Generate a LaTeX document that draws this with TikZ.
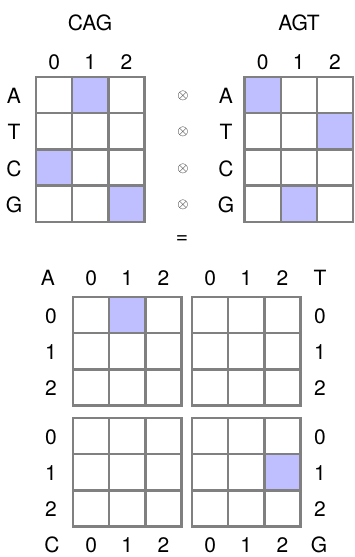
\documentclass[tikz,border=0pt]{standalone}
\usepackage{fontspec}
\setmainfont{TeX Gyre Heros}
\definecolor{gridgray}{RGB}{128,128,128}
\definecolor{hitblue}{RGB}{191,191,255}
\newcommand\cellgrid[4]{% x0 y0 cols rows
  \foreach \i in {0,...,#3} \draw[cellline] (#1+\i*36.2,#2) -- ++(0,#4*36.2);
  \foreach \j in {0,...,#4} \draw[cellline] (#1,#2+\j*36.2) -- ++(#3*36.2,0);
}
\newcommand\hitcell[4]{% x0 y0 col row
  \fill[hitblue] (#1+#3*36.2,#2+#4*36.2) rectangle ++(36.2,36.2);
}
\begin{document}
\begin{tikzpicture}[x=1pt,y=-1pt,
  cellline/.style={draw=gridgray,line width=2.4pt,line cap=rect},
  lbl/.style={font=\fontsize{21}{21}\selectfont,inner sep=0pt,anchor=center},
  op/.style={font=\fontsize{15}{15}\selectfont,inner sep=0pt,anchor=center}]
\useasboundingbox (0,0) rectangle (354,557);
% top left grid CAG
\hitcell{36}{77}{1}{0}
\hitcell{36}{77}{0}{2}
\hitcell{36}{77}{2}{3}
\cellgrid{36}{77}{3}{4}
% top right grid AGT
\hitcell{244.5}{77}{0}{0}
\hitcell{244.5}{77}{2}{1}
\hitcell{244.5}{77}{1}{3}
\cellgrid{244.5}{77}{3}{4}
% bottom blocks
\hitcell{73}{297}{1}{0}
\hitcell{192}{418}{2}{1}
\cellgrid{73}{297}{3}{3}
\cellgrid{192}{297}{3}{3}
\cellgrid{73}{418}{3}{3}
\cellgrid{192}{418}{3}{3}
% titles
\node[lbl] (cag) at (90,23) {CAG};
\node[lbl] (agt) at (299,23) {AGT};
% top column numbers
\node[lbl] (lc0) at (54.1,62) {0};
\node[lbl] (lc1) at (90.3,62) {1};
\node[lbl] (lc2) at (126.5,62) {2};
\node[lbl] (rc0) at (262.6,62) {0};
\node[lbl] (rc1) at (298.8,62) {1};
\node[lbl] (rc2) at (335,62) {2};
% row labels
\foreach \t [count=\k from 0] in {A,T,C,G} {
  \node[lbl] (lr\t) at (14,96+\k*36.2) {\t};
  \node[lbl] (rr\t) at (226,96+\k*36.2) {\t};
  \node[op] (ox\t) at (183,96+\k*36.2) {$\otimes$};
}
\node[lbl] (eq) at (182,240) {=};
% bottom headers
\node[lbl] (ba) at (48,278) {A};
\node[lbl] (bt) at (320,278) {T};
\node[lbl] (bc) at (52,545) {C};
\node[lbl] (bg) at (319,545) {G};
\foreach \n [count=\k from 0] in {0,1,2} {
  \node[lbl] (htl\n) at (91.1+\k*36.2,278) {\n};
  \node[lbl] (htr\n) at (210.1+\k*36.2,278) {\n};
  \node[lbl] (hbl\n) at (91.1+\k*36.2,545) {\n};
  \node[lbl] (hbr\n) at (210.1+\k*36.2,545) {\n};
  \node[lbl] (ul\n) at (51,316+\k*36.2) {\n};
  \node[lbl] (ur\n) at (320,316+\k*36.2) {\n};
  \node[lbl] (dl\n) at (51,437+\k*36.2) {\n};
  \node[lbl] (dr\n) at (320,437+\k*36.2) {\n};
}
\end{tikzpicture}
\end{document}
